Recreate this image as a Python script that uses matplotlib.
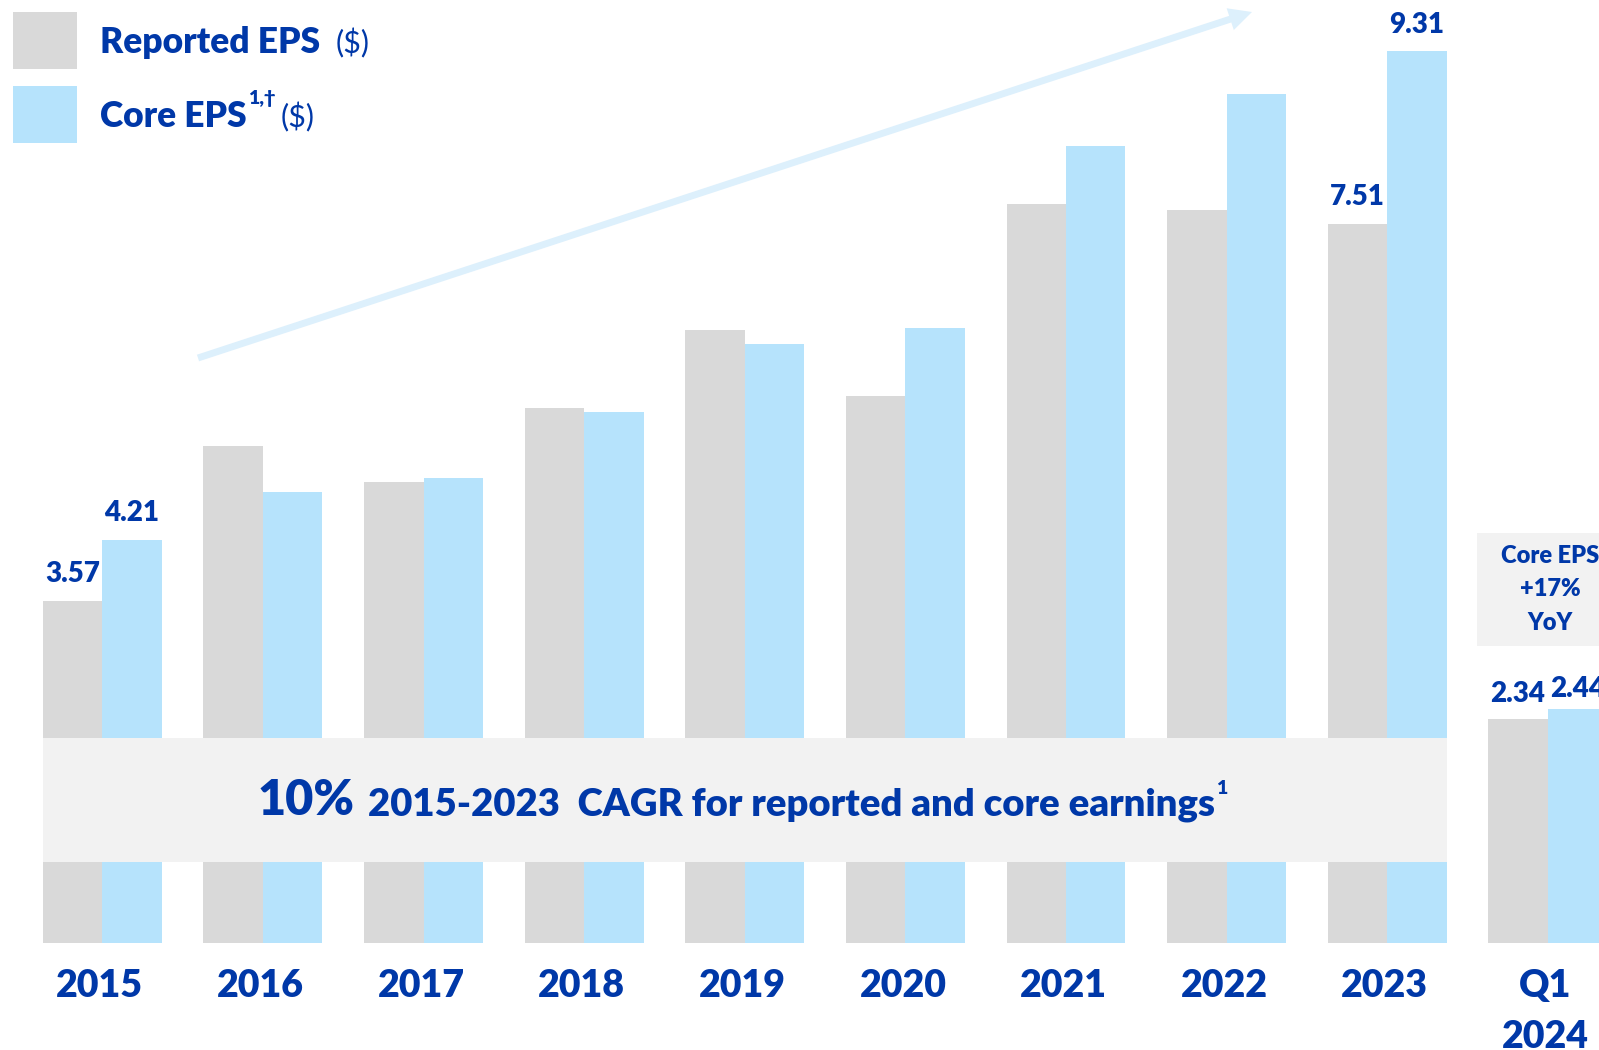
import numpy as np
import matplotlib
matplotlib.use("Agg")
import matplotlib.pyplot as plt
import matplotlib.transforms as mtransforms
from matplotlib.patches import Rectangle, FancyArrowPatch

# ---------------- data ----------------
categories = ["2015", "2016", "2017", "2018", "2019", "2020", "2021", "2022", "2023", "Q1\n2024"]
reported_eps = [3.57, 5.19, 4.81, 5.58, 6.40, 5.71, 7.71, 7.65, 7.51, 2.34]
core_eps = [4.21, 4.71, 4.85, 5.54, 6.25, 6.42, 8.32, 8.86, 9.31, 2.44]
labelled = ["2015", "2023", "Q1\n2024"]
legend_labels = ["Reported EPS", "Core EPS"]
cagr_big = "10%"
cagr_text = "2015-2023  CAGR for reported and core earnings"
callout_lines = ["Core EPS", "+17%", "YoY"]

# ---------------- style ----------------
GRAY = "#D9D9D9"
BLUE = "#B6E3FC"
TXT = "#0038A8"
BAND = "#F2F2F2"
ARROW = "#DDF0FC"
FONT = "Lato"
BW = 800
plt.rcParams["font.family"] = [FONT, "DejaVu Sans"]

W, H = 1599, 1050
fig = plt.figure(figsize=(W / 100, H / 100), dpi=100)
ax = fig.add_axes([0, 0, 1, 1])
ax.set_xlim(-0.637, 9.319)
ax.set_ylim(-1.117, 9.843)
ax.axis("off")

# pixel transform (x from left, y from top)
pxT = mtransforms.Affine2D().scale(1 / W, -1 / H).translate(0, 1) + fig.transFigure
xlab_T = mtransforms.blended_transform_factory(ax.transData, pxT)

x = np.arange(len(categories))
w = 0.370
ax.bar(x - w / 2, reported_eps, width=w, color=GRAY, zorder=1, linewidth=0)
ax.bar(x + w / 2, core_eps, width=w, color=BLUE, zorder=1, linewidth=0)

# value labels
for i, c in enumerate(categories):
    if c in labelled:
        off_r, off_c = (13.3, 13.3) if i < len(categories) - 1 else (12.0, 8.6)
        ax.annotate(f"{reported_eps[i]:.2f}", xy=(x[i] - w / 2, reported_eps[i]),
                    xytext=(0, off_r), textcoords="offset points", ha="center",
                    va="baseline", fontsize=20, fontweight=BW, color=TXT, zorder=5)
        ax.annotate(f"{core_eps[i]:.2f}", xy=(x[i] + w / 2, core_eps[i]),
                    xytext=(0, off_c), textcoords="offset points", ha="center",
                    va="baseline", fontsize=20, fontweight=BW, color=TXT, zorder=5)

# category labels
for i, c in enumerate(categories):
    for k, line in enumerate(c.split("\n")):
        ax.text(x[i] - 0.015, 997 + 51 * k, line, transform=xlab_T, ha="center",
                va="baseline", fontsize=27, fontweight=BW, color=TXT)

# CAGR band
ax.add_patch(Rectangle((42.7, 738), 1404, 124, transform=pxT, color=BAND, zorder=2, linewidth=0))
t10 = ax.text(258, 815, cagr_big, transform=pxT, fontsize=35, fontweight=BW,
              color=TXT, va="baseline", ha="left", zorder=3)
trest = ax.annotate(cagr_text, xy=(1, 815), xycoords=(t10, pxT), xytext=(9, 0),
                    textcoords="offset points", va="baseline", ha="left",
                    fontsize=27.5, fontweight=BW, color=TXT, zorder=3)
ax.annotate("1", xy=(1, 794), xycoords=(trest, pxT), xytext=(1, 0),
            textcoords="offset points", va="baseline", ha="left",
            fontsize=14, fontweight=BW, color=TXT, zorder=3)

# callout box
ax.add_patch(Rectangle((1477, 533), 140, 113, transform=pxT, color=BAND, zorder=2, linewidth=0))
for k, line in enumerate(callout_lines):
    ax.text(1550, 563 + 33.5 * k, line, transform=pxT, ha="center", va="baseline",
            fontsize=17, fontweight=BW, color=TXT, zorder=3)

# arrow
arr = FancyArrowPatch(posA=(198, 358), posB=(1252, 12), transform=pxT,
                      arrowstyle="simple,head_length=16.5,head_width=16.5,tail_width=5",
                      mutation_scale=1, color=ARROW, shrinkA=0, shrinkB=0, zorder=0,
                      linewidth=0)
ax.add_patch(arr)

# legend
ax.add_patch(Rectangle((13, 12), 64, 57, transform=pxT, color=GRAY, linewidth=0))
ax.add_patch(Rectangle((13, 86), 64, 57, transform=pxT, color=BLUE, linewidth=0))
t1 = ax.text(100, 53, legend_labels[0], transform=pxT, fontsize=25.5, fontweight=BW,
             color=TXT, va="baseline", ha="left")
ax.annotate("($)", xy=(1, 53), xycoords=(t1, pxT), xytext=(11, 0), textcoords="offset points",
            va="baseline", ha="left", fontsize=22, fontweight="normal", color=TXT)
t2 = ax.text(100, 127, legend_labels[1], transform=pxT, fontsize=25.5, fontweight=BW,
             color=TXT, va="baseline", ha="left")
tsup = ax.annotate("1,\u2020", xy=(1, 104), xycoords=(t2, pxT), xytext=(1, 0),
                   textcoords="offset points", va="baseline", ha="left",
                   fontsize=14, fontweight=BW, color=TXT)
ax.annotate("($)", xy=(1, 127), xycoords=(tsup, pxT), xytext=(4, 0), textcoords="offset points",
            va="baseline", ha="left", fontsize=22, fontweight="normal", color=TXT)

fig.savefig("out.png", dpi=100, facecolor="white")
